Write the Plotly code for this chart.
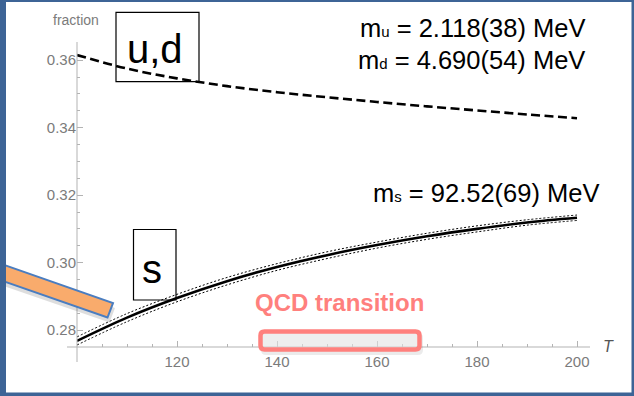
import plotly.graph_objects as go

# ---------------- data ----------------
T = [100, 110, 120, 130, 140, 150, 160, 170, 180, 190, 200]
frac_ud = [0.3615, 0.3575, 0.3546, 0.3523, 0.3505, 0.3490, 0.3476, 0.3463, 0.3451, 0.3439, 0.3428]
frac_s = [0.2768, 0.2837, 0.2895, 0.2945, 0.2987, 0.3022, 0.3052, 0.3078, 0.3100, 0.3119, 0.3133]
err_s = [0.0012, 0.0012, 0.0011, 0.0011, 0.0010, 0.0010, 0.0009, 0.0009, 0.0009, 0.0008, 0.0008]
x_ticks = [120, 140, 160, 180, 200]
y_ticks = [0.28, 0.30, 0.32, 0.34, 0.36]
y_tick_text = ["0.28", "0.30", "0.32", "0.34", "0.36"]

# ---------------- layout geometry (pixels) ----------------
W, H = 634, 396
L, R, TOP, B = 77, 590, 43, 347
PW, PH = R - L, B - TOP


def px(x):
    return (x - L) / PW


def py(y):
    return (B - y) / PH


FONT = "Liberation Sans, Arial, Helvetica, sans-serif"
GRAY = "#7b7b7b"
AXC = "#b3b3b3"
BLUE = "#3d6496"
SALMON = "#ff807d"

s_hi = [v + e for v, e in zip(frac_s, err_s)]
s_lo = [v - e for v, e in zip(frac_s, err_s)]

fig = go.Figure()
fig.add_trace(go.Scatter(x=T, y=s_hi, mode="lines", line=dict(color="black", width=1, dash="2px,2px", shape="spline"), hoverinfo="skip"))
fig.add_trace(go.Scatter(x=T, y=s_lo, mode="lines", line=dict(color="black", width=1, dash="2px,2px", shape="spline"), hoverinfo="skip"))
fig.add_trace(go.Scatter(x=T, y=frac_s, mode="lines", line=dict(color="black", width=2.6, shape="spline")))
fig.add_trace(go.Scatter(x=T, y=frac_ud, mode="lines", line=dict(color="black", width=2.6, dash="9px,4.5px", shape="spline")))

shapes = []
# axis lines (extend slightly past the crossing, as in the original)
shapes.append(dict(type="line", xref="paper", yref="paper", x0=px(67), x1=px(590), y0=0, y1=0, line=dict(color=AXC, width=1)))
shapes.append(dict(type="line", xref="paper", yref="paper", x0=0, x1=0, y0=py(362), y1=py(42), line=dict(color=AXC, width=1)))
# label boxes
shapes.append(dict(type="rect", xref="paper", yref="paper", x0=px(116), x1=px(199), y0=py(81.7), y1=py(12.3), line=dict(color="black", width=1.2)))
shapes.append(dict(type="rect", xref="paper", yref="paper", x0=px(133.5), x1=px(176), y0=py(300), y1=py(229.5), line=dict(color="black", width=1.2)))


def rounded(x0, y0, x1, y1, r):
    rx, ry = r / PW, r / PH
    X0, X1, Y0, Y1 = px(x0), px(x1), py(y1), py(y0)  # Y0 bottom, Y1 top in paper
    return (f"M {X0+rx},{Y1} L {X1-rx},{Y1} Q {X1},{Y1} {X1},{Y1-ry} "
            f"L {X1},{Y0+ry} Q {X1},{Y0} {X1-rx},{Y0} L {X0+rx},{Y0} "
            f"Q {X0},{Y0} {X0},{Y0+ry} L {X0},{Y1-ry} Q {X0},{Y1} {X0+rx},{Y1} Z")


# QCD transition box: soft shadow then box
shapes.append(dict(type="path", xref="paper", yref="paper", path=rounded(261, 333, 423, 355, 5),
                   fillcolor="rgba(0,0,0,0.08)", line=dict(width=0)))
shapes.append(dict(type="path", xref="paper", yref="paper", path=rounded(260.5, 331.5, 419.5, 349.5, 4),
                   fillcolor="rgba(240,240,240,0.55)", line=dict(color=SALMON, width=4.5)))

# orange arrow bar (shadow + bar)
bar = (f"M {px(-5)},{py(261.7)} L {px(113)},{py(303)} L {px(107.5)},{py(317.5)} L {px(-5)},{py(278.2)} Z")
bar_sh = (f"M {px(-5)},{py(266)} L {px(115)},{py(308)} L {px(109.5)},{py(322.5)} L {px(-5)},{py(283)} Z")
shapes.append(dict(type="path", xref="paper", yref="paper", path=bar_sh, fillcolor="rgba(0,0,0,0.13)", line=dict(width=0), layer="above"))
shapes.append(dict(type="path", xref="paper", yref="paper", path=bar, fillcolor="#f9ab6c", line=dict(color="#4a7dc0", width=2), layer="above"))

# blue frame
for x0, x1, y0, y1 in [(0, 6, 0, 396), (0, 634, 0, 2), (631.5, 634, 0, 396), (0, 634, 392.5, 396)]:
    shapes.append(dict(type="rect", xref="paper", yref="paper", x0=px(x0), x1=px(x1), y0=py(y1), y1=py(y0),
                       fillcolor=BLUE, line=dict(width=0), layer="above"))

SUB = '<span style="font-size:15px">{}</span>'
annotations = [
    dict(text="fraction", x=px(76), y=py(20), font=dict(size=14, color=GRAY, family=FONT)),
    dict(text="<i>T</i>", x=px(608.5), y=py(346), font=dict(size=16, color="#555555", family=FONT)),
    dict(text="u,d", x=px(155), y=py(49), font=dict(size=40, color="black", family=FONT)),
    dict(text="s", x=px(152), y=py(269), font=dict(size=40, color="black", family=FONT)),
    dict(text="m" + SUB.format("u") + " = 2.118(38) MeV", x=px(587), y=py(28.5), xanchor="right", font=dict(size=25.5, color="black", family=FONT)),
    dict(text="m" + SUB.format("d") + " = 4.690(54) MeV", x=px(587), y=py(59.5), xanchor="right", font=dict(size=25.5, color="black", family=FONT)),
    dict(text="m" + SUB.format("s") + " = 92.52(69) MeV", x=px(602), y=py(193), xanchor="right", font=dict(size=25.5, color="black", family=FONT)),
    dict(text="<b>QCD transition</b>", x=px(339), y=py(302.5), font=dict(size=24, color=SALMON, family=FONT)),
]
for a in annotations:
    a.setdefault("xanchor", "center")
    a.update(xref="paper", yref="paper", yanchor="middle", showarrow=False)

fig.update_layout(
    width=W, height=H, autosize=False,
    margin=dict(l=L, r=W - R, t=TOP, b=H - B, pad=0),
    paper_bgcolor="white", plot_bgcolor="white",
    showlegend=False,
    shapes=shapes, annotations=annotations,
    xaxis=dict(range=[100, 100 + PW / 5], tickvals=x_ticks, ticks="inside", ticklen=6, tickcolor=AXC, tickwidth=1,
               showgrid=False, zeroline=False, showline=False, ticklabelstandoff=4,
               tickfont=dict(size=15, color=GRAY, family=FONT),
               minor=dict(dtick=5, tick0=100, ticks="inside", ticklen=3, tickcolor=AXC, showgrid=False)),
    yaxis=dict(range=[0.275, 0.275 + PH / 3375], tickvals=y_ticks, ticktext=y_tick_text, ticks="inside", ticklen=6,
               tickcolor=AXC, tickwidth=1, showgrid=False, zeroline=False, showline=False,
               tickfont=dict(size=15, color=GRAY, family=FONT),
               minor=dict(dtick=0.005, tick0=0.275, ticks="inside", ticklen=3, tickcolor=AXC, showgrid=False)),
)

fig.write_html("out.html")
